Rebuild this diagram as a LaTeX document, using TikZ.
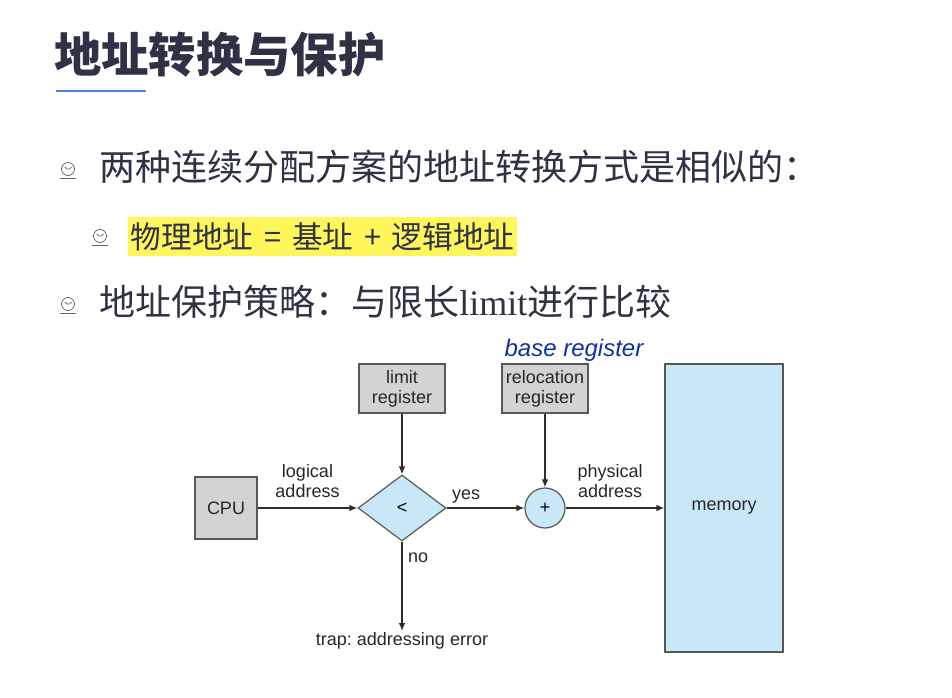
\documentclass[tikz,border=0pt]{standalone}
\usepackage{fontspec}
\setmainfont{Liberation Serif}
\newfontfamily\cjk{Noto Sans CJK SC}
\newfontfamily\diagfont{Liberation Sans}
\usepackage{xcolor}
\definecolor{ink}{RGB}{46,50,68}
\definecolor{accent}{RGB}{74,134,232}
\definecolor{hilite}{RGB}{255,246,92}
\definecolor{regfill}{RGB}{211,211,211}
\definecolor{memfill}{RGB}{200,232,248}
\definecolor{wire}{RGB}{45,45,45}
\definecolor{pen}{RGB}{16,48,170}
\usetikzlibrary{shapes.geometric, arrows.meta}
\tikzstyle{box} = [
    rectangle, align=center,
    draw=wire!80, line width=0.9pt,
    font=\diagfont\fontsize{13.5}{15}\selectfont,
    text=black!85,
]
\tikzstyle{reg} = [
    box,
    fill=regfill,
    minimum width=64.5pt,
    minimum height=36.75pt,
    inner sep=1pt,
]
\tikzstyle{store} = [
    box,
    fill=memfill,
    minimum width=88.5pt,
    minimum height=216pt,
]
\tikzstyle{test} = [
    diamond, aspect=1.33,
    draw=wire!80, line width=0.9pt,
    fill=memfill,
    minimum width=66pt, minimum height=49.5pt,
    inner sep=0pt,
    font=\diagfont\fontsize{13.5}{15}\selectfont,
]
\tikzstyle{adder} = [
    circle,
    draw=wire!80, line width=0.9pt,
    fill=memfill,
    minimum size=30pt, inner sep=0pt,
    font=\diagfont\fontsize{13.5}{15}\selectfont,
]
\tikzstyle{tag} = [
    align=center, inner sep=1pt,
    font=\diagfont\fontsize{13.5}{15}\selectfont,
    text=black!85,
]
\tikzstyle{bullettext} = [
    anchor=west, inner sep=0pt, text=ink,
    font=\cjk\fontsize{27}{31}\selectfont,
]
\tikzstyle{arrow} = [-{Latex[length=6pt,width=5pt]}, draw=wire, line width=1.1pt]
\newcommand{\bulletmark}[2]{%
    \draw [black!60, line width=0.6pt] (#1,#2) circle [radius=6.5];
    \draw [black!60, line width=0.6pt] (#1-3,#2-2) arc [start angle=160, end angle=20, radius=3.5];
    \draw [black!60, line width=0.6pt] (#1-8,#2+9) -- (#1+8,#2+9);
}
\frenchspacing

\begin{document}
\begin{tikzpicture}[x=0.75pt,y=-0.75pt]
    \useasboundingbox (0,0) rectangle (952,698);

    % heading
    \node (title) [anchor=west, inner sep=0pt, text=ink,
        font=\cjk\bfseries\fontsize{35.5}{40}\selectfont] at (54,55) {地址转换与保护};
    \draw [accent, line width=1.6pt] (56,91) -- (146,91);

    % bullets
    \bulletmark{68}{169}
    \bulletmark{100}{236}
    \bulletmark{68}{304}
    \node (line1) [bullettext] at (99,167) {两种连续分配方案的地址转换方式是相似的：};
    \node (line2) [bullettext, fill=hilite, inner xsep=2pt,
        minimum height=29.25pt, font=\cjk\fontsize{23}{26}\selectfont] at (128,237)
        {物理地址\hspace{0.35em}=\hspace{0.35em}基址\hspace{0.35em}+\hspace{0.35em}逻辑地址};
    \node (line3) [bullettext] at (99,302) {地址保护策略：与限长{\rmfamily limit}进行比较};

    % boxes
    \node (cpu) at (226,508) [reg, minimum width=46.5pt, minimum height=46.5pt] {CPU};
    \node (limit) at (402,388.5) [reg] {limit\\register};
    \node (cmp) at (402,508) [test] {<};
    \node (reloc) at (545,388.5) [reg] {relocation\\register};
    \node (add) at (545,508) [adder] {+};
    \node (mem) at (724,508) [store] {memory};
    \node (trap) at (402,641) [tag] {trap: addressing error};
    \node (note) at (574,350) [tag, text=pen,
        font=\diagfont\itshape\fontsize{18}{20}\selectfont] {base register};

    % arrows
    \draw [arrow] (limit.south) to (cmp.north);
    \draw [arrow] (reloc.south) to (add.north);
    \draw [arrow] (cpu.east) to node [tag, above=6pt] {logical\\address} (cmp.west);
    \draw [arrow] (cmp.east) to node [tag, pos=0.25, above=2pt] {yes} (add.west);
    \draw [arrow] (add.east) to node [tag, pos=0.45, above=6pt] {physical\\address} (mem.west);
    \draw [arrow] (cmp.south) to node [tag, pos=0.18, right=3pt] {no} (cmp.south |- trap.north);

\end{tikzpicture}
\end{document}
